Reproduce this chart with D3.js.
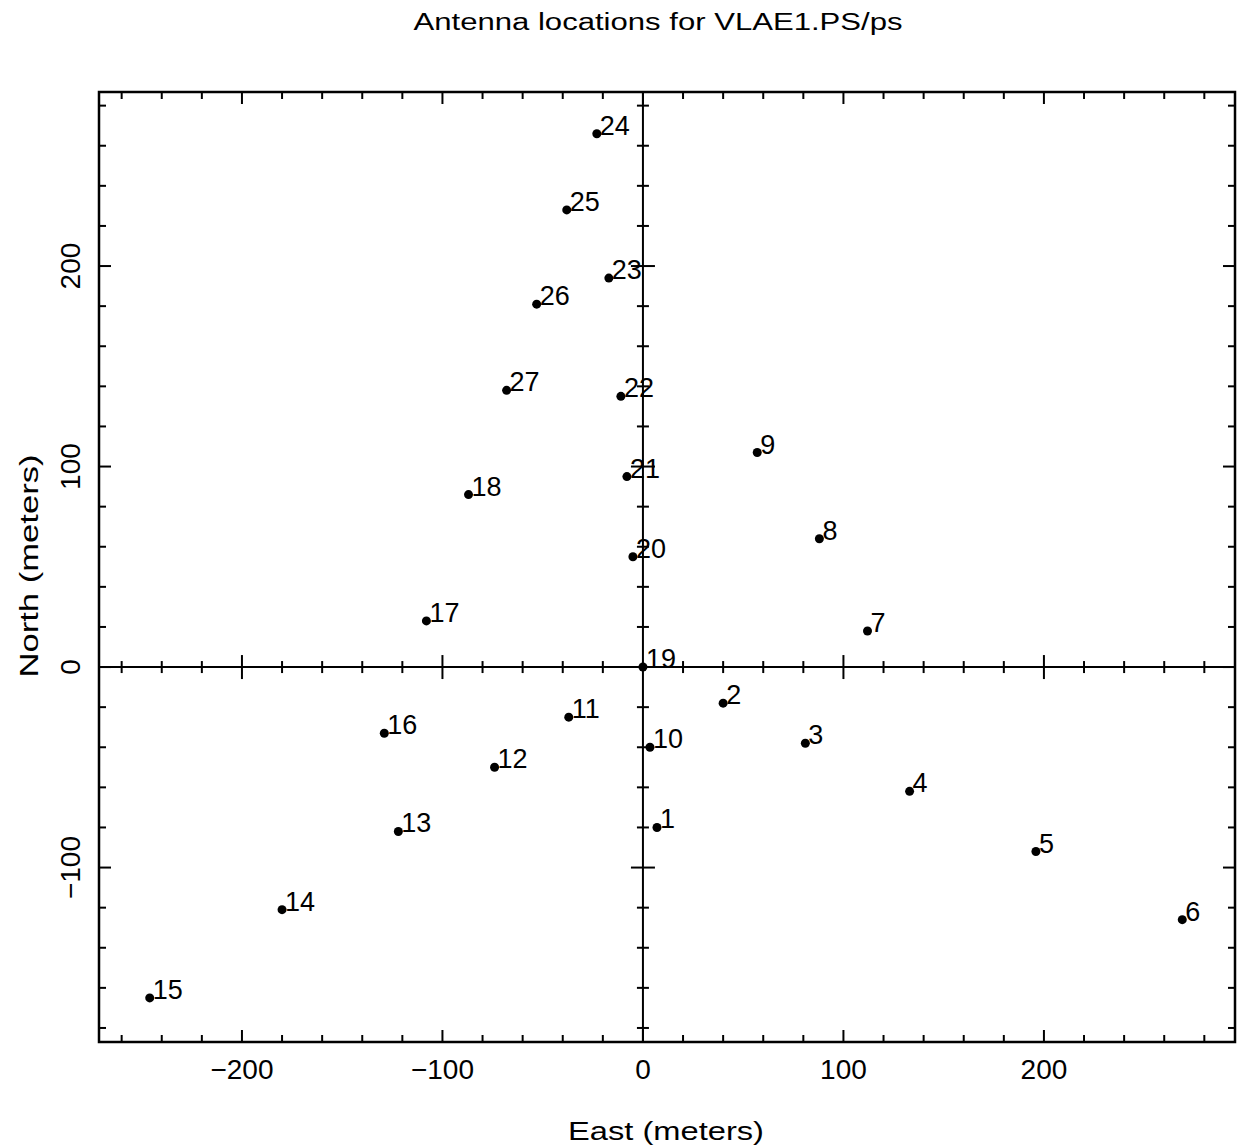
<!DOCTYPE html>
<html><head><meta charset="utf-8">
<script src="https://cdn.jsdelivr.net/npm/d3@7"></script>
<style>body{margin:0;background:#fff}text{font-family:"Liberation Sans",Arial,sans-serif;fill:#000}</style>
</head><body><svg id="c" width="1239" height="1147"></svg>
<script>
const titleText = "Antenna locations for VLAE1.PS/ps";
const xLabel = "East (meters)";
const yLabel = "North (meters)";
const antennaIds = [1,2,3,4,5,6,7,8,9,10,11,12,13,14,15,16,17,18,19,20,21,22,23,24,25,26,27];
const eastVals  = [7,40,81,133,196,269,112,88,57,3.5,-37,-74,-122,-180,-246,-129,-108,-87,0,-5,-8,-11,-17,-23,-38,-53,-68];
const northVals = [-80,-18,-38,-62,-92,-126,18,64,107,-40,-25,-50,-82,-121,-165,-33,23,86,0,55,95,135,194,266,228,181,138];
const xTickLabels = [-200,-100,0,100,200];
const yTickLabels = [-100,0,100,200];

const svg = d3.select("#c");
const L=99, R=1235, T=92, B=1042;
const x = d3.scaleLinear().domain([-271.3,295.3]).range([L,R]);
const y = d3.scaleLinear().domain([-187,286.8]).range([B,T]);
const minor = d3.range(-260,300,20);
const minorY = d3.range(-180,290,20);
const fmt = v => v<0 ? "\u2212"+Math.abs(v) : String(v);

// frame
svg.append("rect").attr("x",L).attr("y",T).attr("width",R-L).attr("height",B-T)
  .attr("fill","none").attr("stroke","#000").attr("stroke-width",2.5);

const g = svg.append("g").attr("stroke","#000").attr("stroke-width",2);
minor.filter(v=>x(v)>L+2&&x(v)<R-2).forEach(v=>{
  const maj = v%100===0;
  const len = maj?12:7;
  g.append("line").attr("x1",x(v)).attr("x2",x(v)).attr("y1",B).attr("y2",B-len);
  g.append("line").attr("x1",x(v)).attr("x2",x(v)).attr("y1",T).attr("y2",T+len);
  if(v!==0) g.append("line").attr("x1",x(v)).attr("x2",x(v)).attr("y1",y(0)-(maj?12:6)).attr("y2",y(0)+(maj?12:6));
});
minorY.filter(v=>y(v)>T+2&&y(v)<B-2).forEach(v=>{
  const maj = v%100===0;
  const len = maj?12:7;
  g.append("line").attr("y1",y(v)).attr("y2",y(v)).attr("x1",L).attr("x2",L+len);
  g.append("line").attr("y1",y(v)).attr("y2",y(v)).attr("x1",R).attr("x2",R-len);
  if(v!==0) g.append("line").attr("y1",y(v)).attr("y2",y(v)).attr("x1",x(0)-(maj?12:6)).attr("x2",x(0)+(maj?12:6));
});
g.append("line").attr("x1",L).attr("x2",R).attr("y1",y(0)).attr("y2",y(0));
g.append("line").attr("x1",x(0)).attr("x2",x(0)).attr("y1",T).attr("y2",B);

svg.selectAll(".xt").data(xTickLabels).enter().append("text")
  .attr("x",d=>x(d)).attr("y",1079).attr("text-anchor","middle")
  .attr("font-size",28).text(fmt);
svg.selectAll(".yt").data(yTickLabels).enter().append("text")
  .attr("transform",d=>`translate(80,${y(d)}) rotate(-90)`).attr("text-anchor","middle")
  .attr("font-size",28).text(fmt);

const pts = antennaIds.map((id,i)=>({id,e:eastVals[i],n:northVals[i]}));
svg.selectAll(".pt").data(pts).enter().append("circle")
  .attr("cx",d=>x(d.e)).attr("cy",d=>y(d.n)).attr("r",4.5).attr("fill","#000");
svg.selectAll(".lb").data(pts).enter().append("text")
  .attr("x",d=>x(d.e)+3).attr("y",d=>y(d.n)+1).attr("font-size",27).text(d=>d.id);

svg.append("text").attr("x",658).attr("y",30).attr("text-anchor","middle")
  .attr("font-size",23).attr("textLength",489).attr("lengthAdjust","spacingAndGlyphs").text(titleText);
svg.append("text").attr("x",666).attr("y",1140).attr("text-anchor","middle")
  .attr("font-size",26).attr("textLength",196).attr("lengthAdjust","spacingAndGlyphs").text(xLabel);
svg.append("text").attr("transform","translate(38,566) rotate(-90)").attr("text-anchor","middle")
  .attr("font-size",26).attr("textLength",223).attr("lengthAdjust","spacingAndGlyphs").text(yLabel);
</script></body></html>
